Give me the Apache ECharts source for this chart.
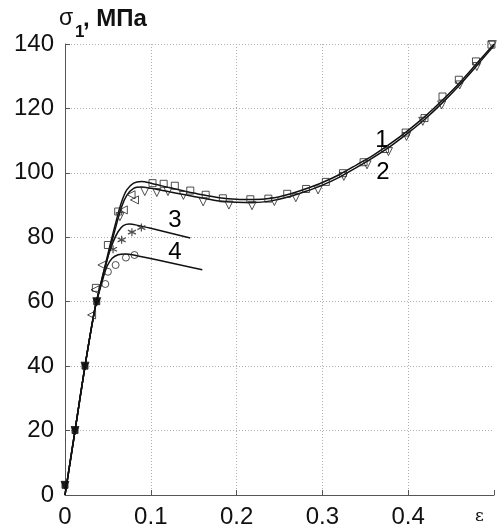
<!DOCTYPE html>
<html>
<head>
<meta charset="utf-8">
<script src="https://cdn.jsdelivr.net/npm/echarts@6/dist/echarts.min.js"></script>
<style>html,body{margin:0;padding:0;background:#fff}#c{width:498px;height:532px}</style>
</head>
<body>
<div id="c"></div>
<script>
// Model curves (strain ε, stress σ1 in MPa)
const curve1 = [[0,0],[0.0117,20],[0.0233,40],[0.035,58],[0.043,67],[0.052,77],[0.06,85.4],[0.066,91],[0.072,94.7],[0.08,96.8],[0.089,97.3],[0.1,96.8],[0.12,95.5],[0.14,94.3],[0.16,93.2],[0.18,92.3],[0.2,91.8],[0.22,91.7],[0.24,92.1],[0.26,93.3],[0.28,95],[0.3,97],[0.32,99.5],[0.34,102.5],[0.36,105.6],[0.38,109.2],[0.4,113.2],[0.42,117.6],[0.44,122.6],[0.46,128],[0.48,134],[0.5,140]];
const curve2 = [[0,0],[0.0117,20],[0.0233,40],[0.035,58],[0.043,66.5],[0.052,76],[0.06,84],[0.066,89.5],[0.072,93],[0.08,95.2],[0.089,95.6],[0.1,95.2],[0.12,94.2],[0.14,93.2],[0.16,92.2],[0.18,91.3],[0.2,90.9],[0.22,90.8],[0.24,91.3],[0.26,92.5],[0.28,94.2],[0.3,96.2],[0.32,98.7],[0.34,101.7],[0.36,104.9],[0.38,108.4],[0.4,112.4],[0.42,116.8],[0.44,121.8],[0.46,127.3],[0.48,133.3],[0.5,139.5]];
const curve3 = [[0,0],[0.0117,20],[0.0233,40],[0.035,58],[0.043,67],[0.05,74],[0.056,78.5],[0.062,81.8],[0.068,83.6],[0.075,84.1],[0.085,83.7],[0.1,82.8],[0.146,79.8]];
const curve4 = [[0,0],[0.0117,20],[0.0233,40],[0.035,58],[0.043,66],[0.049,71],[0.055,73.5],[0.062,74.6],[0.07,74.8],[0.08,74.5],[0.16,69.9]];
// Experimental points
const startPts = [[0,3],[0.0117,20],[0.0233,40],[0.037,60]];
const exp1 = [[0.036,64.3],[0.05,77.6],[0.062,88],[0.102,96.8],[0.115,96.6],[0.128,96],[0.146,94.5],[0.164,93.2],[0.184,92.1],[0.216,91.8],[0.237,92],[0.259,93.5],[0.281,95],[0.304,97.2],[0.324,99.9],[0.348,103.3],[0.373,107.4],[0.397,112.5],[0.419,117],[0.44,123.7],[0.459,128.9],[0.479,134.6],[0.497,139.8]];
const exp2 = [[0.064,86.4],[0.093,94.2],[0.107,93.9],[0.12,94.2],[0.138,93],[0.161,91],[0.191,90],[0.218,89.8],[0.244,91.1],[0.269,92.3],[0.295,94.7],[0.325,98.9],[0.352,102.5],[0.377,106.6],[0.398,111.3],[0.417,116],[0.439,121.1],[0.46,127.3],[0.48,133],[0.498,139.8]];
const expL = [[0.031,55.9],[0.035,63.7],[0.043,71.4],[0.068,88.5],[0.077,93.2],[0.081,91.6]];
const exp3 = [[0.056,76.3],[0.066,79.2],[0.078,81.6],[0.089,83]];
const exp4 = [[0.047,65.5],[0.05,69.3],[0.059,71.4],[0.071,73.7],[0.081,74.5]];
const curveLabels = [['1',0.3695,110.2],['2',0.3706,100.3],['3',0.128,85.4],['4',0.128,75.2]];
const xTicks = [0,0.1,0.2,0.3,0.4,0.5];
const yTicks = [0,20,40,60,80,100,120,140];

const chart = echarts.init(document.getElementById('c'), null, {renderer:'canvas'});
const FONT = '"Liberation Sans", Arial, sans-serif';
const lineStyle = {color:'#111', width:1.5};
function curve(d){return {type:'line', data:d, showSymbol:false, symbol:'none', smooth:0.3, lineStyle:lineStyle, z:3, silent:true};}
function pts(d, sym, size, rot, extra){return Object.assign({type:'scatter', data:d, symbol:sym, symbolSize:size, symbolRotate:rot||0,
  itemStyle:{color:'rgba(255,255,255,0)', borderColor:'#222', borderWidth:1}, z:4, silent:true}, extra||{});}
const star = 'path://M0,-5L0,5M-4.33,-2.5L4.33,2.5M-4.33,2.5L4.33,-2.5';

chart.setOption({
  animation:false,
  grid:{left:65, right:4, top:44, bottom:37},
  xAxis:{type:'value', min:xTicks[0], max:xTicks[xTicks.length-1], interval:0.1,
    axisLine:{show:true, lineStyle:{color:'#555', width:1}},
    axisTick:{show:true, inside:true, length:5, lineStyle:{color:'#555'}},
    axisLabel:{fontFamily:FONT, fontSize:24, color:'#111', margin:10,
      formatter:v=> (Math.abs(v-0.5)<1e-9 ? '' : String(+v.toFixed(1)))},
    splitLine:{show:true, showMaxLine:false, lineStyle:{color:'#b0b0b0', type:[1,2], width:1}}},
  yAxis:{type:'value', min:yTicks[0], max:yTicks[yTicks.length-1], interval:20,
    axisLine:{show:true, lineStyle:{color:'#555', width:1}},
    axisTick:{show:true, inside:true, length:5, lineStyle:{color:'#555'}},
    axisLabel:{fontFamily:FONT, fontSize:24, color:'#111', margin:11},
    splitLine:{show:true, lineStyle:{color:'#b0b0b0', type:[1,2], width:1}}},
  graphic:[
    {type:'text', left:59, top:7, style:{text:'σ', font:'23px '+FONT, fill:'#111'}},
    {type:'text', left:75, top:24, style:{text:'1', font:'bold 17px '+FONT, fill:'#111'}},
    {type:'text', left:83, top:7, style:{text:', МПа', font:'bold 24px '+FONT, fill:'#111'}},
    {type:'text', left:475, top:508, style:{text:'ε', font:'17px "DejaVu Serif", serif', fill:'#111'}}
  ],
  series:[
    curve(curve1), curve(curve2), curve(curve3), curve(curve4),
    pts(startPts,'triangle',8,180,{itemStyle:{color:'#111', borderColor:'#111', borderWidth:1}}),
    pts(startPts,'rect',6,0,{itemStyle:{color:'#111', borderColor:'#111', borderWidth:1}}),
    pts(exp1,'rect',7),
    pts(exp2,'triangle',8,180),
    pts(expL,'triangle',8,90),
    pts(exp3,star,8,0,{itemStyle:{color:'none', borderColor:'#222', borderWidth:1.2}}),
    pts(exp4,'circle',7),
    {type:'scatter', data:curveLabels.map(r=>({value:[r[1],r[2]], name:r[0]})), symbolSize:0, silent:true, z:5,
      itemStyle:{color:'#000', opacity:1},
      label:{show:true, position:'inside', formatter:p=>p.name, fontFamily:FONT, fontSize:24,
        color:'#000', textBorderWidth:0, opacity:1}}
  ]
});
</script>
</body>
</html>
